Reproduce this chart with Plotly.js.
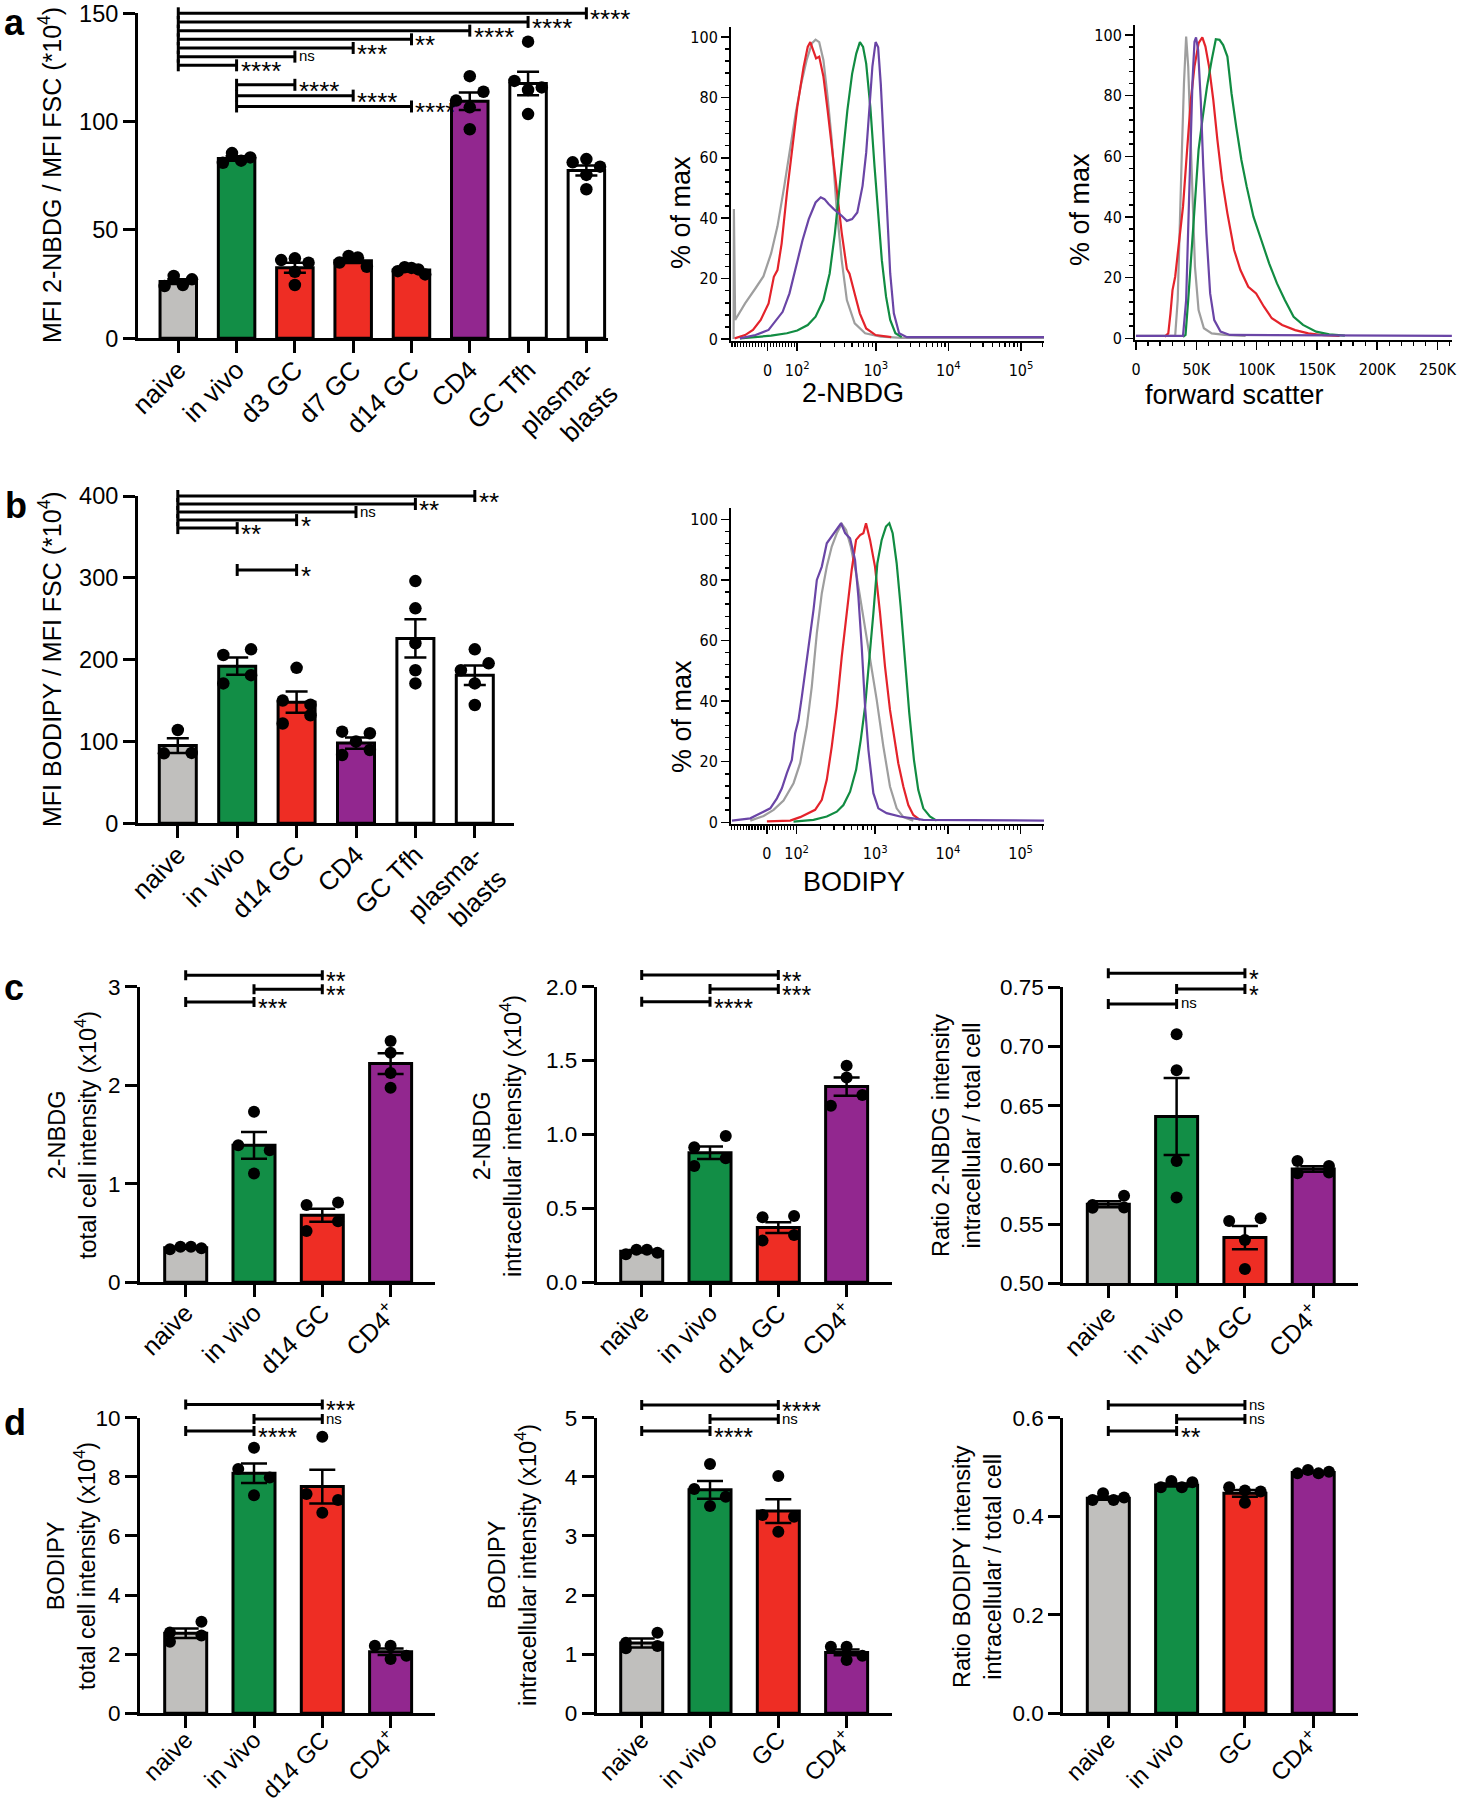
<!DOCTYPE html>
<html><head><meta charset="utf-8">
<script src="https://cdn.plot.ly/plotly-3.0.1.min.js"></script>
<style>html,body{margin:0;padding:0;background:#fff}</style>
</head><body><div id="chart" style="width:1459px;height:1800px"></div>
<script>
// ================= DATA =================
// Panel a – bar chart (MFI 2-NBDG / MFI FSC, *10^4)
const aCats  = ['naive','in vivo','d3 GC','d7 GC','d14 GC','CD4','GC Tfh','plasma-<br>blasts'];
const aMeans = [26.2, 83.0, 32.6, 35.8, 31.5, 109.4, 117.6, 77.4];
const aSem   = [1.1, 1.0, 2.3, 1.1, 0.6, 4.0, 5.4, 2.3];
const aDots  = [[24.1,28.8,24.6,27.2],[81.0,85.5,82.0,83.5],[36.1,36.9,34.9,30.7,24.6],[35.0,38.0,37.3,33.0],
                [31.0,32.8,32.5,31.8,29.5],[121.0,109.7,113.8,106.6,96.5],[136.9,118.8,114.6,115.8,103.5],[81.2,82.7,79.2,75.4,68.8]];
const aPairs = [[0,7,'****'],[0,6,'****'],[0,5,'****'],[0,4,'**'],[0,3,'***'],[0,2,'ns'],[0,1,'****'],[1,2,'****'],[1,3,'****'],[1,4,'****']];
// Panel b – bar chart (MFI BODIPY / MFI FSC)
const bCats  = ['naive','in vivo','d14 GC','CD4','GC Tfh','plasma-<br>blasts'];
const bMeans = [95, 192, 148, 98, 226, 181];
const bSem   = [9, 10.5, 13, 7, 23.5, 12];
const bDots  = [[114,85.5,86],[205.7,212.6,171,181],[190,150,145,122,132],[112,100,110,83.5,89.6],[296,262.7,220,187,171],[212.6,187,195.5,171,144.6]];
const bPairs = [[0,5,'**'],[0,4,'**'],[0,3,'ns'],[0,2,'*'],[0,1,'**'],[1,2,'*']];
// Panel c
const cCats = ['naive','in vivo','d14 GC','CD4<sup>+</sup>'];
const c1Means = [0.35, 1.39, 0.68, 2.22];
const c1Sem   = [0.01, 0.135, 0.066, 0.105];
const c1Dots  = [[0.335,0.36,0.36,0.345],[1.73,1.39,1.34,1.105],[0.785,0.81,0.52,0.62],[2.45,2.33,2.125,1.975]];
const c1Pairs = [[0,2,'**'],[1,2,'**'],[0,1,'***']];
const c2Means = [0.21, 0.877, 0.37, 1.324];
const c2Sem   = [0.008, 0.042, 0.037, 0.062];
const c2Dots  = [[0.19,0.22,0.22,0.2],[0.913,0.99,0.787,0.84],[0.44,0.449,0.282,0.32],[1.466,1.385,1.195,1.267]];
const c2Pairs = [[0,2,'**'],[1,2,'***'],[0,1,'****']];
const c3Means = [0.5667, 0.6408, 0.5386, 0.5966];
const c3Sem   = [0.0025, 0.0325, 0.0098, 0.0023];
const c3Dots  = [[0.5639,0.5662,0.574,0.564],[0.7103,0.680,0.6033,0.5724],[0.5526,0.5549,0.5366,0.5121],[0.6033,0.5991,0.5929,0.5935]];
const c3Pairs = [[0,2,'*'],[1,2,'*'],[0,1,'ns']];
// Panel d
const d1Cats = ['naive','in vivo','d14 GC','CD4<sup>+</sup>'];
const d2Cats = ['naive','in vivo','GC','CD4<sup>+</sup>'];
const d1Means = [2.71, 8.12, 7.67, 2.08];
const d1Sem   = [0.16, 0.33, 0.57, 0.11];
const d1Dots  = [[2.73,3.1,2.42,2.63],[8.985,8.264,7.98,7.38],[9.357,7.418,7.215,6.787],[2.289,2.289,1.838,1.95]];
const d1Pairs = [[0,2,'***'],[1,2,'ns'],[0,1,'****']];
const d2Means = [1.19, 3.78, 3.42, 1.03];
const d2Sem   = [0.075, 0.15, 0.2, 0.05];
const d2Dots  = [[1.195,1.364,1.10,1.139],[4.216,3.794,3.664,3.506],[4.013,3.354,3.326,3.072],[1.127,1.127,0.902,0.975]];
const d2Pairs = [[0,2,'****'],[1,2,'ns'],[0,1,'****']];
const d3Means = [0.4363, 0.4634, 0.4465, 0.489];
const d3Sem   = [0.003, 0.003, 0.007, 0.0015];
const d3Dots  = [[0.433,0.4465,0.433,0.438],[0.4586,0.4715,0.4586,0.469],[0.4586,0.452,0.45,0.4275],[0.487,0.4938,0.487,0.4904]];
const d3Pairs = [[0,2,'ns'],[1,2,'ns'],[0,1,'**']];

// Histograms: x in logicle display units (0 -> 0, 10^2 -> 0.40, 10^3 -> 1.46, 10^4 -> 2.44, 10^5 -> 3.42), y in % of max
const logTickVals = [0, 0.40, 1.46, 2.44, 3.42];
const logTickText = ['0','10<sup>2</sup>','10<sup>3</sup>','10<sup>4</sup>','10<sup>5</sup>'];
const nbdgGreyT = [-0.458,-0.454,-0.437,-0.303,-0.162,-0.056,0.049,0.134,0.225,0.310,0.380,0.451,0.528,0.599,0.648,0.697,0.754,0.810,0.866,0.930,1.000,1.070,1.176,1.317,1.528,1.810,3.73];
const nbdgGreyP = [0,43,6.3,11.8,16.8,20.7,28.4,37.3,50.5,63.8,74.8,84.2,92.4,97.9,99.1,98.3,92.3,80.2,65.9,43.8,26.2,12.9,5.2,1.9,0.8,0.4,0.4];
const nbdgRedT = [-0.444,-0.303,-0.197,-0.092,0.014,0.085,0.134,0.190,0.261,0.331,0.401,0.486,0.542,0.577,0.613,0.655,0.697,0.754,0.810,0.880,0.951,1.000,1.070,1.106,1.176,1.246,1.331,1.458,1.669];
const nbdgRedP = [0.2,1.3,3.0,6.3,11.8,20.6,22.8,31.6,48.2,63.6,76.8,90.0,96.7,98.3,95.6,92.9,93.5,86.9,75.9,60.5,46.2,35.3,23.2,21.6,15.0,8.4,3.5,1.3,0.6];
const nbdgGreenT = [-0.373,0.049,0.261,0.401,0.542,0.648,0.754,0.838,0.908,0.965,1.021,1.077,1.141,1.197,1.246,1.289,1.331,1.387,1.444,1.493,1.542,1.599,1.655,1.725,1.810];
const nbdgGreenP = [0.2,1.1,1.9,2.8,4.6,7.4,12.9,21.7,34.9,48.2,62.5,75.7,87.8,94.5,98.3,96.7,91.2,76.8,57.0,40.5,26.1,14.0,6.3,1.9,0.6];
const nbdgPurpleT = [-0.373,-0.162,0.014,0.120,0.204,0.296,0.387,0.472,0.556,0.648,0.718,0.768,0.824,0.894,1.000,1.070,1.141,1.211,1.282,1.331,1.373,1.415,1.458,1.493,1.528,1.570,1.613,1.655,1.704,1.775,1.880,3.73];
const nbdgPurpleP = [0.2,1.3,3.0,6.3,9.0,15.1,23.9,32.7,39.7,45.2,46.9,46.3,44.7,43.0,40.8,39.1,39.7,41.9,50.7,61.7,75.9,90.3,98.3,96.6,84.5,62.4,40.3,21.7,8.5,1.9,0.6,0.6];
// forward scatter in thousands
const fscGreyK = [0,32.5,34.6,36.4,38.1,39.8,41.6,43.3,45.0,46.8,48.9,51.9,56.3,62.8,73.6,90.9];
const fscGreyP = [0.8,0.8,12.6,34.6,62.1,84.1,99.5,89.6,67.6,45.6,23.6,9.3,3.3,1.6,1.1,0.8];
const fscRedK = [23.8,26.8,28.6,30.3,32.5,35.5,39.0,42.4,45.5,48.5,51.9,55.0,57.6,60.6,64.1,67.5,71.4,75.8,81.4,86.6,93.1,99.6,106.1,112.6,121.2,132.0,142.9,155.8,168.8];
const fscRedP = [0.5,1.6,8.2,15.9,20.3,30.2,43.4,62.1,78.6,89.6,97.3,99.2,96.2,89.6,78.6,65.4,52.2,41.2,29.1,22.5,17.0,14.8,10.4,6.6,4.4,2.7,1.6,1.0,0.8];
const fscGreenK = [39.0,41.1,43.3,45.5,48.5,51.9,55.4,58.9,62.8,66.2,69.3,72.3,75.8,79.2,83.1,87.4,91.8,97.4,103.9,110.4,116.9,123.4,130.7,138.5,149.4,160.2,173.2];
const fscGreenP = [0.5,1.1,12.6,25.8,43.4,62.1,73.1,83.0,91.8,98.6,98.4,96.7,92.9,80.8,69.8,58.8,50.0,40.1,32.4,24.7,18.1,12.6,7.1,4.4,2.2,1.3,0.9];
const fscPurpleK = [0,39.0,41.6,43.3,45.0,46.8,48.5,49.8,51.5,53.7,55.8,58.4,61.5,64.9,70.1,77.9,261.9];
const fscPurpleP = [0.8,0.8,12.6,34.6,62.1,84.1,97.8,99.2,95.1,78.6,56.6,34.6,14.8,6.0,2.2,1.1,0.8];
const fscTickVals = [0,50,100,150,200,250];
const fscTickText = ['0','50K','100K','150K','200K','250K'];
// BODIPY histogram
const bodGreyT = [-0.224,-0.045,0.090,0.224,0.359,0.448,0.538,0.605,0.673,0.740,0.807,0.874,0.942,1.009,1.067,1.130,1.211,1.300,1.390,1.480,1.570,1.659,1.749,1.839,1.973];
const bodGreyP = [0.55,2.1,4.1,7.2,12.9,19.5,31.6,44.8,62.4,75.6,84.4,91.0,95.4,98.5,96.5,91.0,81.1,67.9,54.7,40.4,25.0,11.8,4.6,1.7,0.55];
const bodRedT = [0,0.314,0.448,0.561,0.650,0.740,0.807,0.874,0.942,1.009,1.076,1.143,1.202,1.256,1.300,1.336,1.390,1.457,1.525,1.592,1.659,1.726,1.771,1.839,1.906,1.973,2.063];
const bodRedP = [0.3,0.55,1.7,3.2,4.1,7.4,14.0,25.0,38.2,54.7,69.0,83.3,93.2,94.8,95.4,98.7,93.2,84.4,69.0,51.4,37.1,26.1,19.5,11.8,5.7,2.4,0.8];
const bodGreenT = [0.359,0.628,0.807,0.942,1.031,1.121,1.202,1.265,1.323,1.381,1.435,1.489,1.547,1.605,1.650,1.695,1.749,1.803,1.861,1.919,1.982,2.040,2.108,2.197,2.287];
const bodGreenP = [0.2,0.8,1.9,3.5,5.7,10.1,17.3,27.2,38.2,53.6,69.0,85.5,93.2,97.6,98.7,95.4,85.5,71.2,53.6,36.0,20.6,10.7,4.6,1.9,0.55];
const bodPurpleT = [-0.471,-0.224,-0.135,-0.045,0.045,0.135,0.202,0.269,0.336,0.381,0.426,0.471,0.516,0.574,0.628,0.673,0.740,0.807,0.874,0.942,1.000,1.054,1.121,1.188,1.233,1.278,1.323,1.368,1.435,1.502,1.614,1.794,2.108,3.735];
const bodPurpleP = [0.55,1.3,2.4,3.5,4.6,7.9,11.2,16.2,20.6,29.4,33.8,41.5,49.2,60.2,70.1,80.0,84.4,92.1,94.3,96.5,98.7,95.4,93.7,86.6,74.5,58.0,38.2,23.9,9.6,4.6,3.0,1.9,0.8,0.55];

// ================= STYLE / LAYOUT =================
const W = 1459, H = 1800;
const FONT = 'Liberation Sans, Arial, Helvetica, sans-serif';
const NARROW = 'Liberation Sans Narrow, Arial Narrow, DejaVu Sans Condensed, Liberation Sans, sans-serif';
const GREY='#c0bfbd', GREEN='#128e46', RED='#ee2d24', PURPLE='#92278f', WHITE='#ffffff';
const HGREY='#9e9e9e', HRED='#e4232b', HGREEN='#118c42', HPURPLE='#6a45a6';
const px2x = p => p / W, px2y = p => 1 - p / H;

const traces = [], shapes = [], annotations = [];
const layout = {
  width: W, height: H, margin: {l:0, r:0, t:0, b:0},
  paper_bgcolor: '#ffffff', plot_bgcolor: 'rgba(0,0,0,0)',
  showlegend: false, font: {family: FONT, color: '#000'},
  shapes: shapes, annotations: annotations
};

function swarmX(vals, center, pxY, pxX, spreadPx) {
  const order = vals.map((v,i)=>i).sort((i,j)=> (vals[j]-vals[i]) || (i-j));
  const rows = []; let cur = null;
  order.forEach(i => {
    if (cur && (cur.top - vals[i]) * pxY < 11.6) cur.m.push(i);
    else { cur = {top: vals[i], m: [i]}; rows.push(cur); }
  });
  const xs = new Array(vals.length);
  rows.forEach(r => {
    const m = r.m.slice().sort((a,b)=>a-b), k = m.length;
    m.forEach((i,j) => { const off = k === 1 ? 0 : (-spreadPx/2 + j*spreadPx/(k-1)); xs[i] = center + off / pxX; });
  });
  return xs;
}

function barPanel(p) {
  const n = p.n, xa = 'x'+n, ya = 'y'+n, yb = 'y'+(n+1);
  const idx = p.cats.map((_,i)=>i);
  const pxX = (p.xPx[1]-p.xPx[0]) / (p.xRange[1]-p.xRange[0]);
  const pxY = (p.yPx[1]-p.yPx[0]) / (p.yRange[1]-p.yRange[0]);
  layout['xaxis'+n] = {
    domain: [px2x(p.xPx[0]), px2x(p.xPx[1])], range: p.xRange, anchor: ya,
    showline: true, linewidth: 3, linecolor: '#000', ticks: 'outside', ticklen: 12, tickwidth: 3, tickcolor: '#000',
    tickmode: 'array', tickvals: idx, ticktext: p.cats, tickangle: -45, ticklabelstandoff: p.standoff,
    tickfont: {family: FONT, size: p.catFont, color: '#000'}, showgrid: false, zeroline: false, fixedrange: true
  };
  layout['yaxis'+n] = {
    domain: [px2y(p.yPx[1]), px2y(p.yPx[0])], range: p.yRange, anchor: xa,
    showline: true, linewidth: 3, linecolor: '#000', ticks: 'outside', ticklen: 12, tickwidth: 3, tickcolor: '#000',
    tickmode: 'array', tickvals: p.yTicks, ticktext: p.yTicks.map(v => v.toFixed(p.dec)),
    tickfont: {family: FONT, size: p.tickFont, color: '#000'}, showgrid: false, zeroline: false, fixedrange: true
  };
  const extTop = Math.max(0, p.yPx[0] - p.ext);
  const hiExt = p.yRange[0] + (p.yPx[1] - extTop) / pxY;
  layout['yaxis'+(n+1)] = {domain: [px2y(p.yPx[1]), px2y(extTop)], range: [p.yRange[0], hiExt], anchor: xa, visible: false, fixedrange: true};

  traces.push({type:'bar', x: idx, y: p.means, width: p.bw, xaxis: xa, yaxis: ya,
    marker: {color: p.colors, line: {color:'#000', width: 3}}, hoverinfo: 'skip'});
  const dx = [], dy = [];
  p.dots.forEach((vals, i) => {
    const xs = swarmX(vals, i, pxY, pxX, 0.75 * p.bw * pxX);
    vals.forEach((v, j) => { dx.push(xs[j]); dy.push(v); });
  });
  traces.push({type:'scatter', mode:'markers', x: dx, y: dy, xaxis: xa, yaxis: ya,
    marker: {size: p.dot, color: '#000'}, cliponaxis: false, hoverinfo: 'skip'});
  traces.push({type:'scatter', mode:'markers', x: idx, y: p.means, xaxis: xa, yaxis: ya,
    marker: {size: 1, color: 'rgba(0,0,0,0)'}, cliponaxis: false, hoverinfo: 'skip',
    error_y: {type:'data', array: p.sem, visible: true, color:'#000', thickness: 2.5, width: p.cap}});
  traces.push({type:'scatter', mode:'markers', x: [0], y: [p.yRange[0]], xaxis: xa, yaxis: yb,
    marker: {size: 1, color: 'rgba(0,0,0,0)'}, hoverinfo: 'skip'});

  p.pairs.forEach((pr, k) => {
    const [a, b, lab] = pr, lev = p.levels[k];
    shapes.push({type:'line', xref: xa, yref: yb, x0: a, x1: b, y0: lev, y1: lev, line: {color:'#000', width: 3}});
    [a, b].forEach(xx => shapes.push({type:'line', xref: xa, yref: yb, x0: xx, x1: xx,
      ysizemode: 'pixel', yanchor: lev, y0: -p.capH, y1: p.capH, line: {color:'#000', width: 3}}));
    const isNs = lab === 'ns';
    annotations.push({xref: xa, yref: yb, x: b, y: lev, text: lab, showarrow: false,
      xanchor: 'left', yanchor: 'middle', xshift: 2, yshift: isNs ? 1 : -6,
      font: {family: FONT, size: isNs ? 15 : p.starFont, color: '#000'}});
  });
}

// Panel a bar
barPanel({n:1, cats:aCats, means:aMeans, sem:aSem, dots:aDots, pairs:aPairs,
  levels:[150,146,142,138,134,130,126,117,112,107],
  colors:[GREY,GREEN,RED,RED,RED,PURPLE,WHITE,WHITE],
  xPx:[138,608], xRange:[-0.691,7.371], yPx:[13.3,338.3], yRange:[0,150], yTicks:[0,50,100,150], dec:0,
  bw:0.626, dot:12.5, cap:11, capH:6, ext:20, starFont:26, catFont:26, tickFont:23.5, standoff:-9});
// Panel b bar
barPanel({n:3, cats:bCats, means:bMeans, sem:bSem, dots:bDots, pairs:bPairs,
  levels:[400,390.2,380.4,370.6,360.8,309.6],
  colors:[GREY,GREEN,RED,PURPLE,WHITE,WHITE],
  xPx:[138,514], xRange:[-0.670,5.660], yPx:[496,823.3], yRange:[0,400], yTicks:[0,100,200,300,400], dec:0,
  bw:0.623, dot:12.5, cap:11, capH:6, ext:40, starFont:26, catFont:26, tickFont:23.5, standoff:-9});
// Panel c
const c4 = [GREY,GREEN,RED,PURPLE];
barPanel({n:5, cats:cCats, means:c1Means, sem:c1Sem, dots:c1Dots, pairs:c1Pairs, levels:[3.115,2.975,2.845], colors:c4,
  xPx:[140,435], xRange:[-0.669,3.650], yPx:[986.7,1282.3], yRange:[0,3], yTicks:[0,1,2,3], dec:0,
  bw:0.615, dot:12, cap:13, capH:5, ext:50, starFont:25, catFont:25, tickFont:22.5, standoff:-9});
barPanel({n:7, cats:cCats, means:c2Means, sem:c2Sem, dots:c2Dots, pairs:c2Pairs, levels:[2.079,1.984,1.899], colors:c4,
  xPx:[596.7,891.7], xRange:[-0.659,3.660], yPx:[986.7,1282.3], yRange:[0,2], yTicks:[0,0.5,1,1.5,2], dec:1,
  bw:0.615, dot:12, cap:13, capH:5, ext:50, starFont:25, catFont:25, tickFont:22.5, standoff:-9});
barPanel({n:9, cats:cCats, means:c3Means, sem:c3Sem, dots:c3Dots, pairs:c3Pairs, levels:[0.7618,0.7486,0.7359], colors:c4,
  xPx:[1063.3,1358.3], xRange:[-0.659,3.660], yPx:[987.3,1283.3], yRange:[0.5,0.75], yTicks:[0.5,0.55,0.6,0.65,0.7,0.75], dec:2,
  bw:0.615, dot:12, cap:13, capH:5, ext:50, starFont:25, catFont:25, tickFont:22.5, standoff:-9});
// Panel d
barPanel({n:11, cats:d1Cats, means:d1Means, sem:d1Sem, dots:d1Dots, pairs:d1Pairs, levels:[10.45,9.955,9.549], colors:c4,
  xPx:[140,435], xRange:[-0.669,3.650], yPx:[1417.7,1713.3], yRange:[0,10], yTicks:[0,2,4,6,8,10], dec:0,
  bw:0.615, dot:12, cap:13, capH:5, ext:50, starFont:25, catFont:24, tickFont:22.5, standoff:-12});
barPanel({n:13, cats:d2Cats, means:d2Means, sem:d2Sem, dots:d2Dots, pairs:d2Pairs, levels:[5.214,4.977,4.775], colors:c4,
  xPx:[596.7,891.7], xRange:[-0.659,3.660], yPx:[1417.7,1713.3], yRange:[0,5], yTicks:[0,1,2,3,4,5], dec:0,
  bw:0.615, dot:12, cap:13, capH:5, ext:50, starFont:25, catFont:24, tickFont:22.5, standoff:-12});
barPanel({n:15, cats:d2Cats, means:d3Means, sem:d3Sem, dots:d3Dots, pairs:d3Pairs, levels:[0.6257,0.5973,0.573], colors:c4,
  xPx:[1063.3,1358.3], xRange:[-0.659,3.660], yPx:[1417.7,1713.3], yRange:[0,0.6], yTicks:[0,0.2,0.4,0.6], dec:1,
  bw:0.615, dot:12, cap:13, capH:5, ext:50, starFont:25, catFont:24, tickFont:22.5, standoff:-12});

// ---------- histograms ----------
function logicleMinor(lo, hi) {
  const out = [];
  for (let v = -120; v < 100; v += 10) if (v !== 0) out.push(0.004 * v);
  const maj = logTickVals.concat([4.40]);
  for (let d = 1; d < maj.length - 1; d++)
    for (let m = 2; m <= 9; m++) out.push(maj[d] + (maj[d+1] - maj[d]) * Math.log10(m));
  return out.filter(t => t > lo && t < hi);
}
function histAxes(n, xPx, yTopPx, yBotPx, yRange, xCfg) {
  layout['xaxis'+n] = Object.assign({
    domain: [px2x(xPx[0]), px2x(xPx[1])], anchor: 'y'+n,
    showline: true, linewidth: 2, linecolor: '#000', ticks: 'outside', ticklen: 8, tickwidth: 1.5, tickcolor: '#000',
    tickfont: {family: NARROW, size: 16, color: '#000'}, ticklabelstandoff: 6,
    showgrid: false, zeroline: false, fixedrange: true
  }, xCfg);
  layout['yaxis'+n] = {
    domain: [px2y(yBotPx), px2y(yTopPx)], range: yRange, anchor: 'x'+n,
    showline: true, linewidth: 2, linecolor: '#000', ticks: 'outside', ticklen: 8, tickwidth: 1.5, tickcolor: '#000',
    tickmode: 'array', tickvals: [0,20,40,60,80,100],
    minor: {tickmode: 'linear', tick0: 0, dtick: 4, ticklen: 4, tickwidth: 1.5, tickcolor: '#000', ticks: 'outside'},
    tickfont: {family: NARROW, size: 16, color: '#000'},
    showgrid: false, zeroline: false, fixedrange: true
  };
}
function histLine(n, xs, ys, color) {
  traces.push({type:'scatter', mode:'lines', x: xs, y: ys, xaxis: 'x'+n, yaxis: 'y'+n,
    line: {color: color, width: 2.2}, hoverinfo: 'skip'});
}
const logXCfg = (lo, hi) => ({range: [lo, hi], tickmode: 'array', tickvals: logTickVals, ticktext: logTickText,
  minor: {tickmode: 'array', tickvals: logicleMinor(lo, hi), ticklen: 4, tickwidth: 1.2, tickcolor: '#000', ticks: 'outside'}});

histAxes(17, [731,1044], 27.0, 340.8, [-0.6,103.3], logXCfg(-0.493, 3.73));
histLine(17, nbdgGreyT, nbdgGreyP, HGREY);
histLine(17, nbdgRedT, nbdgRedP, HRED);
histLine(17, nbdgGreenT, nbdgGreenP, HGREEN);
histLine(17, nbdgPurpleT, nbdgPurpleP, HPURPLE);

histAxes(18, [1135,1452], 25.0, 340.1, [-0.6,103.3], {range: [-0.8, 262], tickmode: 'array', tickvals: fscTickVals, ticktext: fscTickText,
  minor: {tickmode: 'linear', tick0: 0, dtick: 10, ticklen: 4, tickwidth: 1.2, tickcolor: '#000', ticks: 'outside'}});
histLine(18, fscGreyK, fscGreyP, HGREY);
histLine(18, fscRedK, fscRedP, HRED);
histLine(18, fscGreenK, fscGreenP, HGREEN);
histLine(18, fscPurpleK, fscPurpleP, HPURPLE);

histAxes(19, [731,1044], 508.4, 824.1, [-0.6,103.6], logXCfg(-0.484, 3.735));
histLine(19, bodGreyT, bodGreyP, HGREY);
histLine(19, bodRedT, bodRedP, HRED);
histLine(19, bodGreenT, bodGreenP, HGREEN);
histLine(19, bodPurpleT, bodPurpleP, HPURPLE);

// ---------- text: titles & panel letters ----------
function txt(text, cx, cy, size, opts) {
  annotations.push(Object.assign({xref:'paper', yref:'paper', x: px2x(cx), y: px2y(cy), text: text, showarrow: false,
    xanchor: 'center', yanchor: 'middle', font: {family: FONT, size: size, color: '#000'}}, opts || {}));
}
const rot = {textangle: -90};
txt('MFI 2-NBDG / MFI FSC (*10<sup>4</sup>)', 50, 175, 25, rot);
txt('MFI BODIPY / MFI FSC (*10<sup>4</sup>)', 50, 659, 25, rot);
txt('2-NBDG<br>total cell intensity (x10<sup>4</sup>)', 72, 1135, 23.5, rot);
txt('2-NBDG<br>intracellular intensity (x10<sup>4</sup>)', 497, 1136, 23.5, rot);
txt('Ratio 2-NBDG intensity<br>intracellular / total cell', 956, 1135, 23.5, rot);
txt('BODIPY<br>total cell intensity (x10<sup>4</sup>)', 71, 1566, 23.5, rot);
txt('BODIPY<br>intracellular intensity (x10<sup>4</sup>)', 512, 1565, 23.5, rot);
txt('Ratio BODIPY intensity<br>intracellular / total cell', 977, 1567, 23.5, rot);
txt('% of max', 681, 213, 27, rot);
txt('% of max', 1080, 210, 27, rot);
txt('% of max', 682, 717, 27, rot);
txt('2-NBDG', 853, 393, 27);
txt('forward scatter', 1234, 395, 27);
txt('BODIPY', 854, 882, 27);
const letter = (t, x, y) => txt('<b>' + t + '</b>', x, y, 36, {xanchor: 'left'});
letter('a', 2, 22); letter('b', 3, 506); letter('c', 2, 987); letter('d', 2, 1422);

Plotly.newPlot('chart', traces, layout, {staticPlot: true});
</script>
</body></html>
